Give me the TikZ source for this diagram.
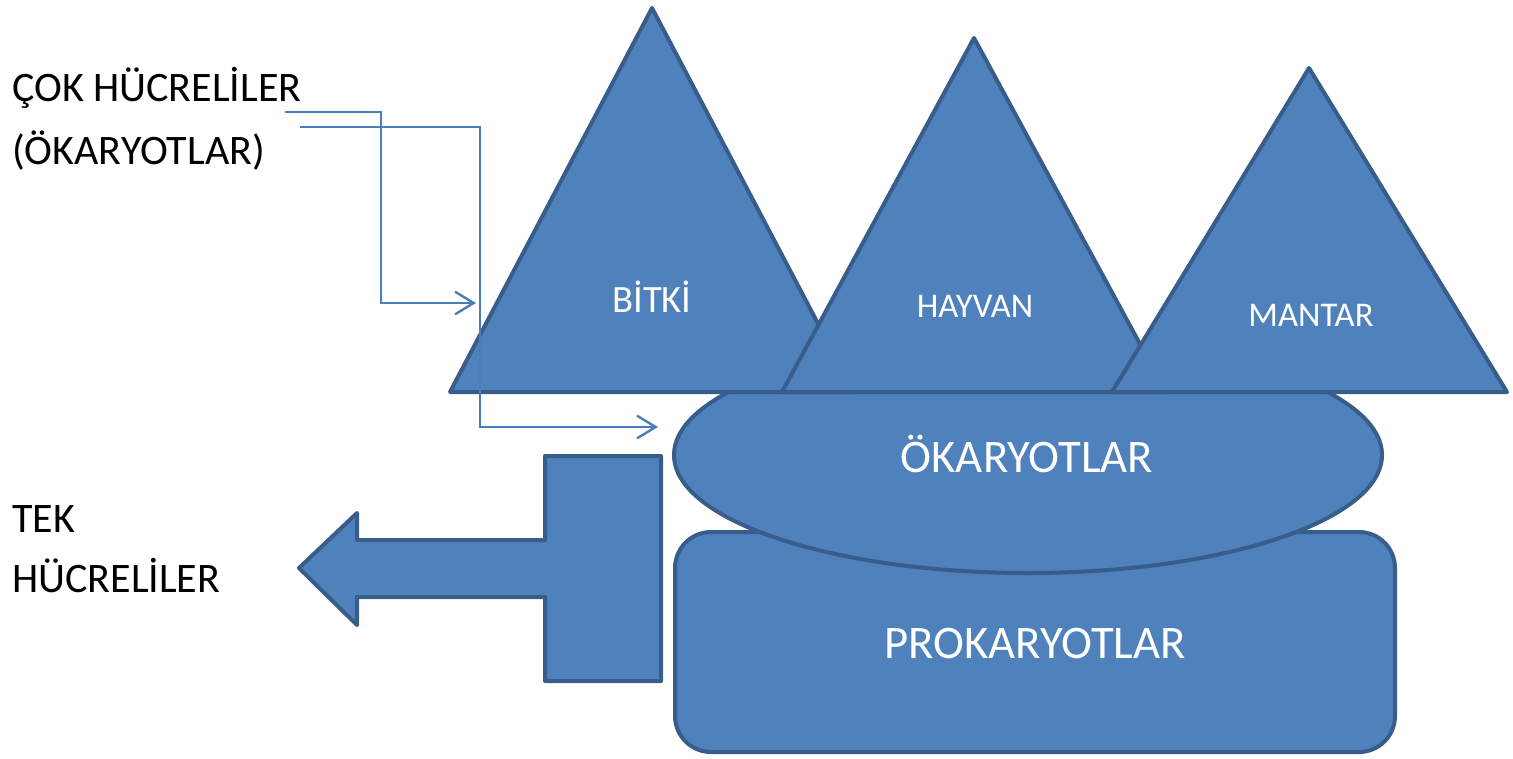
\documentclass[tikz,border=0pt]{standalone}
\usepackage{fontspec}
\setmainfont{Carlito}
\usetikzlibrary{arrows.meta,shapes.geometric}
\definecolor{shapefill}{HTML}{4F81BD}
\definecolor{shapeline}{HTML}{385D8A}
\definecolor{connline}{HTML}{4A7EBB}
\begin{document}
\begin{tikzpicture}[x=0.75pt,y=-0.75pt,
  shp/.style={fill=shapefill,draw=shapeline,line width=3pt,line join=round},
  conn/.style={draw=connline,line width=1.8pt,-{Straight Barb[length=14pt,width=17pt]}},
  blk/.style={anchor=base west,inner sep=0pt,text=black,font=\fontsize{31.5}{38}\selectfont},
  wht/.style={anchor=base,inner sep=0pt,text=white}]
\useasboundingbox (0,0) rectangle (1513,758);

% base shapes
\node[shp,rectangle,rounded corners=27pt,minimum width=540pt,minimum height=165pt,inner sep=0pt] (prok) at (1035,642) {};
\node[shp,ellipse,minimum width=531pt,minimum height=177pt,inner sep=0pt] (euk) at (1028,455) {};

% triangles
\draw[shp] (450,392) coordinate (bL) -- (652,8) coordinate (bT) -- (854,392) coordinate (bR) -- cycle;
\draw[shp] (782,392) coordinate (hL) -- (974,38) coordinate (hT) -- (1166,392) coordinate (hR) -- cycle;
\draw[shp] (1112,392) coordinate (mL) -- (1309,68) coordinate (mT) -- (1507,392) coordinate (mR) -- cycle;

% T-shaped arrow
\draw[shp] (661,456) -- (545,456) -- (545,540) -- (357,540) -- (357,513) -- (299,568)
  -- (357,625) -- (357,597) -- (545,597) -- (545,681) -- (661,681) -- cycle;

% labels in shapes
\node[wht,font=\fontsize{29}{34}\selectfont] (tbitki) at (652,312) {BİTKİ};
\node[wht,font=\fontsize{26}{31}\selectfont] (thayvan) at (975,317) {HAYVAN};
\node[wht,font=\fontsize{26}{31}\selectfont] (tmantar) at (1311,326) {MANTAR};
\node[wht,font=\fontsize{35}{42}\selectfont] (teuk) at (1027,472) {ÖKARYOTLAR};
\node[wht,font=\fontsize{35}{42}\selectfont] (tprok) at (1035,658) {PROKARYOTLAR};

% left labels
\node[blk] (cok1) at (12,101) {ÇOK HÜCRELİLER};
\node[blk] (cok2) at (12,164) {(ÖKARYOTLAR)};
\node[blk] (tek1) at (12,532) {TEK};
\node[blk] (tek2) at (12,592) {HÜCRELİLER};

% connectors
\coordinate (c1s) at (285,112);
\coordinate (c1e) at (476,303);
\coordinate (c2s) at (300,127);
\coordinate (c2e) at (658,427);
\draw[conn] (c1s) -- ++(96,0) |- (c1e);
\draw[conn] (c2s) -- ++(180,0) |- (c2e);
\end{tikzpicture}
\end{document}
